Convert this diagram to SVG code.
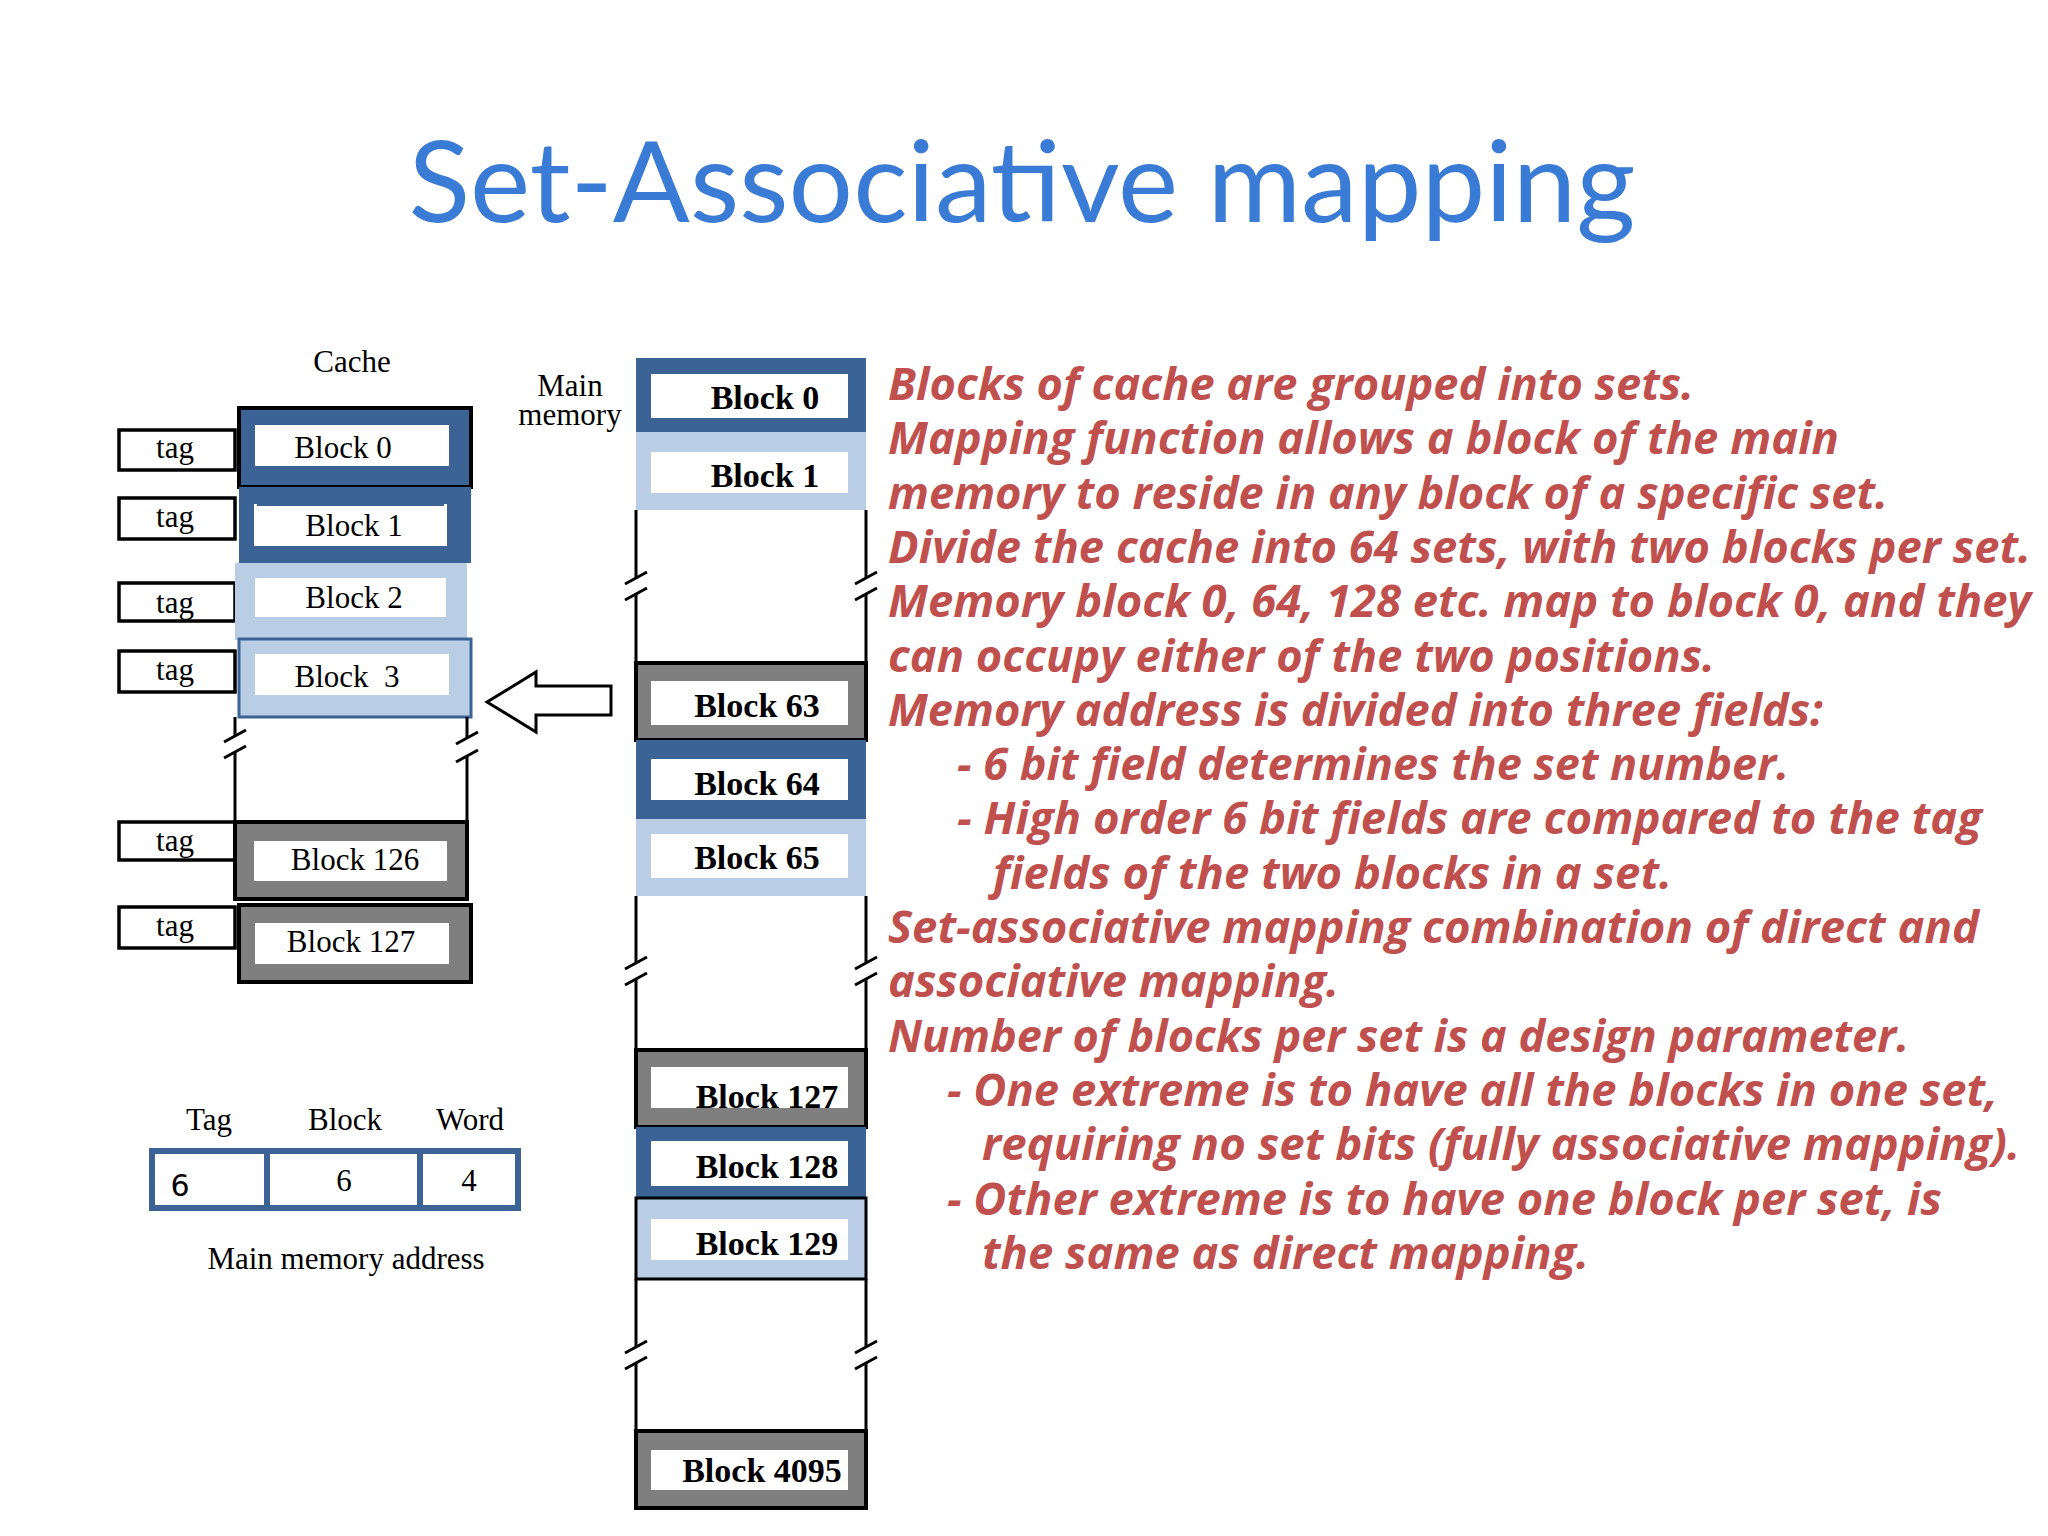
<svg xmlns="http://www.w3.org/2000/svg" width="2048" height="1536" viewBox="0 0 2048 1536">
<style>
.dk{fill:#3b6396}.lt{fill:#b9cee5}.gr{fill:#7f7f7f}
.in{fill:#fff}
.tag{fill:#fff;stroke:#000;stroke-width:3.5}
.ln{stroke:#000;stroke-width:3;fill:none}
.t{font-family:"Liberation Serif",serif;font-size:31px;fill:#000;text-anchor:middle}
.b{font-family:"Liberation Serif",serif;font-size:34px;font-weight:bold;fill:#000;text-anchor:middle}
.r{font-family:"Open Sans",sans-serif;font-size:44px;font-weight:bold;font-style:italic;fill:#c0504d}
</style>
<rect width="2048" height="1536" fill="#fff"/>
<text x="1022" y="222" font-family="Lato,sans-serif" font-size="112" fill="#3a7bd5" text-anchor="middle" textLength="1227" lengthAdjust="spacingAndGlyphs">Set-Associative mapping</text>

<text class="t" x="352" y="372">Cache</text>
<text class="t" x="570" y="396">Main</text>
<text class="t" x="570" y="425">memory</text>

<g id="tags">
<rect class="tag" x="119" y="430" width="116" height="40"/><text class="t" x="175" y="458">tag</text>
<rect class="tag" x="119" y="498" width="116" height="41"/><text class="t" x="175" y="527">tag</text>
<rect class="tag" x="119" y="583" width="116" height="38"/><text class="t" x="175" y="613">tag</text>
<rect class="tag" x="119" y="651" width="116" height="41"/><text class="t" x="175" y="680">tag</text>
<rect class="tag" x="119" y="822" width="116" height="38"/><text class="t" x="175" y="851">tag</text>
<rect class="tag" x="119" y="907" width="116" height="41"/><text class="t" x="175" y="936">tag</text>
</g>

<g id="cache">
<g id="c0"><rect class="dk" x="239" y="408" width="232" height="79" stroke="#000" stroke-width="4"/><rect class="in" x="255" y="425" width="194" height="41"/><text class="t" x="343" y="458">Block 0</text></g>
<g id="c1"><rect class="dk" x="239" y="487" width="232" height="76"/><rect class="in" x="254" y="504" width="193" height="42"/><line x1="257" y1="505" x2="444" y2="505" stroke="#3b6396" stroke-width="2"/><text class="t" x="354" y="536">Block 1</text></g>
<g id="c2"><rect class="lt" x="235" y="563" width="232" height="77"/><rect class="in" x="255" y="578" width="191" height="39"/><text class="t" x="354" y="608">Block 2</text></g>
<g id="c3"><rect class="lt" x="239" y="639" width="232" height="78" stroke="#3b6396" stroke-width="3"/><rect class="in" x="255" y="654" width="194" height="41"/><text class="t" x="347" y="687" xml:space="preserve">Block  3</text></g>
<g id="c126"><rect class="gr" x="235" y="822" width="232" height="77" stroke="#000" stroke-width="4"/><rect class="in" x="254" y="841" width="193" height="40"/><text class="t" x="355" y="870">Block 126</text></g>
<g id="c127"><rect class="gr" x="239" y="905" width="232" height="77" stroke="#000" stroke-width="4"/><rect class="in" x="255" y="923" width="194" height="41"/><text class="t" x="351" y="952">Block 127</text></g>
</g>

<g id="mm">
<g id="m0"><rect class="dk" x="636" y="358" width="230" height="74"/><rect class="in" x="651" y="374" width="197" height="44"/><text class="b" x="765" y="409">Block 0</text></g>
<g id="m1"><rect class="lt" x="636" y="432" width="230" height="78"/><rect class="in" x="651" y="452" width="197" height="41"/><text class="b" x="765" y="487">Block 1</text></g>
<g id="m63"><rect class="gr" x="636" y="663" width="230" height="77" stroke="#000" stroke-width="4"/><rect class="in" x="651" y="681" width="197" height="44"/><text class="b" x="757" y="717">Block 63</text></g>
<g id="m64"><rect class="dk" x="636" y="740" width="230" height="79"/><rect class="in" x="651" y="759" width="197" height="41"/><text class="b" x="757" y="795">Block 64</text></g>
<g id="m65"><rect class="lt" x="636" y="819" width="230" height="77"/><rect class="in" x="651" y="834" width="197" height="44"/><text class="b" x="757" y="869">Block 65</text></g>
<g id="m127"><rect class="gr" x="636" y="1050" width="230" height="77" stroke="#000" stroke-width="4"/><rect class="in" x="651" y="1067" width="197" height="41"/><text class="b" x="767" y="1108">Block 127</text></g>
<g id="m128"><rect class="dk" x="636" y="1127" width="230" height="71"/><rect class="in" x="651" y="1141" width="197" height="45"/><text class="b" x="767" y="1178">Block 128</text></g>
<g id="m129"><rect class="lt" x="636" y="1198" width="230" height="81" stroke="#000" stroke-width="3"/><rect class="in" x="651" y="1219" width="197" height="41"/><text class="b" x="767" y="1255">Block 129</text></g>
<g id="m4095"><rect class="gr" x="636" y="1431" width="230" height="77" stroke="#000" stroke-width="4"/><rect class="in" x="651" y="1450" width="197" height="40"/><text class="b" x="762" y="1482">Block 4095</text></g>
</g>

<g id="connectors">
<path class="ln" d="M235 717V736M235 752V822M467 717V738M467 756V822"/>
<path class="ln" d="M224 742L246 730M224 758L246 746M456 744L478 732M456 762L478 750"/>
<path class="ln" d="M636 510V578M636 594V663M866 510V578M866 594V663"/>
<path class="ln" d="M625 584L647 572M625 600L647 588M855 584L877 572M855 600L877 588"/>
<path class="ln" d="M636 896V963M636 979V1050M866 896V963M866 979V1050"/>
<path class="ln" d="M625 969L647 957M625 985L647 973M855 969L877 957M855 985L877 973"/>
<path class="ln" d="M636 1279V1347M636 1363V1431M866 1279V1347M866 1363V1431"/>
<path class="ln" d="M625 1353L647 1341M625 1369L647 1357M855 1353L877 1341M855 1369L877 1357"/>
<path d="M487 702L536 672V686H611V715H536V732Z" fill="#fff" stroke="#000" stroke-width="3"/>
</g>

<g id="address">
<text class="t" x="209" y="1130">Tag</text>
<text class="t" x="345" y="1130">Block</text>
<text class="t" x="470" y="1130">Word</text>
<rect x="152" y="1151" width="366" height="57" fill="#fff" stroke="#3b6396" stroke-width="6"/>
<line x1="267" y1="1151" x2="267" y2="1208" stroke="#3b6396" stroke-width="6"/>
<line x1="420" y1="1151" x2="420" y2="1208" stroke="#3b6396" stroke-width="6"/>
<text x="180" y="1196" font-family="'DejaVu Sans',sans-serif" font-size="30" text-anchor="middle">6</text>
<text class="t" x="344" y="1191">6</text>
<text class="t" x="469" y="1191">4</text>
<text class="t" x="346" y="1269">Main memory address</text>
</g>

<g id="notes">
<text class="r" x="888" y="400" textLength="806" lengthAdjust="spacingAndGlyphs">Blocks of cache are grouped into sets.</text>
<text class="r" x="888" y="454" textLength="951" lengthAdjust="spacingAndGlyphs">Mapping function allows a block of the main</text>
<text class="r" x="888" y="509" textLength="1000" lengthAdjust="spacingAndGlyphs">memory to reside in any block of a specific set.</text>
<text class="r" x="888" y="563" textLength="1143" lengthAdjust="spacingAndGlyphs">Divide the cache into 64 sets, with two blocks per set.</text>
<text class="r" x="888" y="617" textLength="1143" lengthAdjust="spacingAndGlyphs">Memory block 0, 64, 128 etc. map to block 0, and they</text>
<text class="r" x="888" y="672" textLength="827" lengthAdjust="spacingAndGlyphs">can occupy either of the two positions.</text>
<text class="r" x="888" y="726" textLength="935" lengthAdjust="spacingAndGlyphs">Memory address is divided into three fields:</text>
<text class="r" x="957" y="780" textLength="832" lengthAdjust="spacingAndGlyphs">- 6 bit field determines the set number.</text>
<text class="r" x="957" y="834" textLength="1025" lengthAdjust="spacingAndGlyphs">- High order 6 bit fields are compared to the tag</text>
<text class="r" x="993" y="889" textLength="679" lengthAdjust="spacingAndGlyphs">fields of the two blocks in a set.</text>
<text class="r" x="888" y="943" textLength="1091" lengthAdjust="spacingAndGlyphs">Set-associative mapping combination of direct and</text>
<text class="r" x="888" y="997" textLength="451" lengthAdjust="spacingAndGlyphs">associative mapping.</text>
<text class="r" x="888" y="1052" textLength="1021" lengthAdjust="spacingAndGlyphs">Number of blocks per set is a design parameter.</text>
<text class="r" x="947" y="1106" textLength="1051" lengthAdjust="spacingAndGlyphs">- One extreme is to have all the blocks in one set,</text>
<text class="r" x="982" y="1160" textLength="1038" lengthAdjust="spacingAndGlyphs">requiring no set bits (fully associative mapping).</text>
<text class="r" x="947" y="1215" textLength="995" lengthAdjust="spacingAndGlyphs">- Other extreme is to have one block per set, is</text>
<text class="r" x="982" y="1269" textLength="607" lengthAdjust="spacingAndGlyphs">the same as direct mapping.</text>
</g>
</svg>
